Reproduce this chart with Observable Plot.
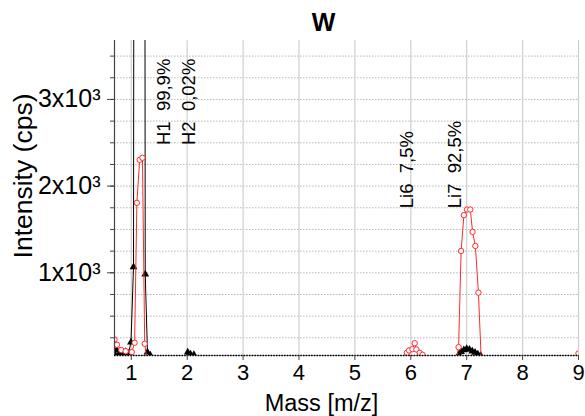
<!DOCTYPE html>
<html>
<head>
<meta charset="utf-8">
<script src="https://cdn.jsdelivr.net/npm/d3@7"></script>
<script src="https://cdn.jsdelivr.net/npm/@observablehq/plot@0.6"></script>
<style>
  html, body { margin: 0; padding: 0; background: white; }
</style>
</head>
<body>
<div id="chart"></div>
<script>
// ---- data ----
const redMass = [0.70, 0.744, 0.82, 0.90, 1.01, 1.06, 1.10, 1.15, 1.20, 1.24, 1.28, 2.0, 3.0, 4.0, 5.0, 5.85, 5.93, 5.97, 6.03, 6.07, 6.10, 6.16, 6.21, 6.26, 6.82, 6.855, 6.90, 6.95, 7.005, 7.065, 7.105, 7.155, 7.21, 7.26, 8.0, 8.95, 9.0];
const redIntensity = [231, 170, 110, 95, 85, 193, 1807, 2304, 2327, 181, 0, 0, 0, 0, 0, 0, 77, 104, 119, 188, 116, 77, 54, 0, 0, 142, 1252, 1665, 1730, 1730, 1472, 1310, 771, 0, 0, 0, 70];

const blackMass = [0.70, 0.74, 0.78, 0.82, 0.86, 0.90, 0.95, 0.995, 1.04, 1.07, 1.22, 1.25, 1.29, 1.34, 1.5, 1.95, 2.01, 2.06, 2.12, 2.2, 3, 4, 5, 6, 6.8, 6.86, 6.9, 6.95, 7.0, 7.05, 7.1, 7.15, 7.2, 7.25, 8, 9];
const blackIntensity = [70, 110, 60, 80, 60, 90, 70, 200, 1067, 20000, 20000, 983, 84, 50, 0, 0, 84, 60, 55, 0, 0, 0, 0, 0, 0, 60, 90, 110, 125, 115, 95, 80, 60, 45, 0, 0];

const isotopeLabels = ["H1\u00a0\u00a099,9%", "H2\u00a0\u00a00,02%", "Li6\u00a0\u00a07,5%", "Li7\u00a0\u00a092,5%"];
const isotopeMass = [1.58, 2.03, 5.94, 6.80];
const isotopeY = [2474, 2474, 1745, 1745];

const xTicks = [1, 2, 3, 4, 5, 6, 7, 8, 9];
const yMajorTicks = [1000, 2000, 3000];
const yMinorTicks = [250, 500, 750, 1000, 1250, 1500, 1750, 2000, 2250, 2500, 2750, 3000, 3250, 3500];
const yTickLabels = ["1x10\u00b3", "2x10\u00b3", "3x10\u00b3"];

const title = "W";
const xLabel = "Mass [m/z]";
const yLabel = "Intensity (cps)";

// ---- tables ----
const red = redMass.map((m, i) => ({m, v: redIntensity[i]}));
const black = blackMass.map((m, i) => ({m, v: blackIntensity[i]}));
const iso = isotopeLabels.map((t, i) => ({t, m: isotopeMass[i], v: isotopeY[i]}));

const font = "'Liberation Sans', Arial, sans-serif";
const redColor = "#ff2a2a";

const chart = Plot.plot({
  width: 585,
  height: 416,
  marginLeft: 114,
  marginRight: 7,
  marginTop: 40,
  marginBottom: 61,
  style: {fontFamily: font, background: "white", color: "black", overflow: "visible"},
  x: {domain: [0.7, 9]},
  y: {domain: [46, 3680]},
  marks: [
    Plot.gridY(yMinorTicks, {stroke: "#b8b8b8", strokeOpacity: 1, strokeDasharray: "1.5,1.5"}),
    Plot.gridX(xTicks, {stroke: "#cfcfcf", strokeOpacity: 1, strokeWidth: 1.2}),
    Plot.line(black, {x: "m", y: "v", stroke: "black", strokeWidth: 1, clip: true}),
    Plot.dot(black, {x: "m", y: "v", symbol: "triangle", fill: "black", r: 2.9, clip: true}),
    Plot.line(red, {x: "m", y: "v", stroke: redColor, strokeWidth: 1, clip: true}),
    Plot.dot(red, {x: "m", y: "v", r: 2.7, stroke: redColor, strokeWidth: 1, fill: "white", clip: true}),
    Plot.ruleX([0.7], {stroke: "#444", strokeWidth: 1.2}),
    Plot.ruleY([46], {stroke: "#999", strokeWidth: 1}),
    Plot.ruleY([46], {stroke: "black", strokeWidth: 1.3, strokeDasharray: "1.5,1.2"}),
    Plot.axisY(yMinorTicks, {tickSize: 4, stroke: "#444", label: null, tickFormat: () => ""}),
    Plot.axisY(yMajorTicks, {tickSize: 7, tickPadding: 7, stroke: "#444", fontSize: 25, label: null,
      tickFormat: (d) => yTickLabels[yMajorTicks.indexOf(d)]}),
    Plot.axisX(xTicks, {tickSize: 5, tickPadding: 4, stroke: "#444", fontSize: 22, label: null, tickFormat: (d) => String(d)}),
    Plot.text(iso, {x: "m", y: "v", text: "t", rotate: -90, textAnchor: "start", fontSize: 18.5, fill: "black"}),
    Plot.text([title], {frameAnchor: "top", textAnchor: "middle", lineAnchor: "middle", dx: -23, dy: -18, fontSize: 25, fontWeight: "bold", fill: "black"}),
    Plot.text([xLabel], {frameAnchor: "bottom", textAnchor: "middle", lineAnchor: "middle", dx: -25, dy: 47.5, fontSize: 23.5, fill: "black"}),
    Plot.text([yLabel], {frameAnchor: "left", textAnchor: "middle", lineAnchor: "middle", dx: -91, dy: -22, rotate: -90, fontSize: 26.5, fill: "black"})
  ]
});
document.getElementById("chart").appendChild(chart);
</script>
</body>
</html>
